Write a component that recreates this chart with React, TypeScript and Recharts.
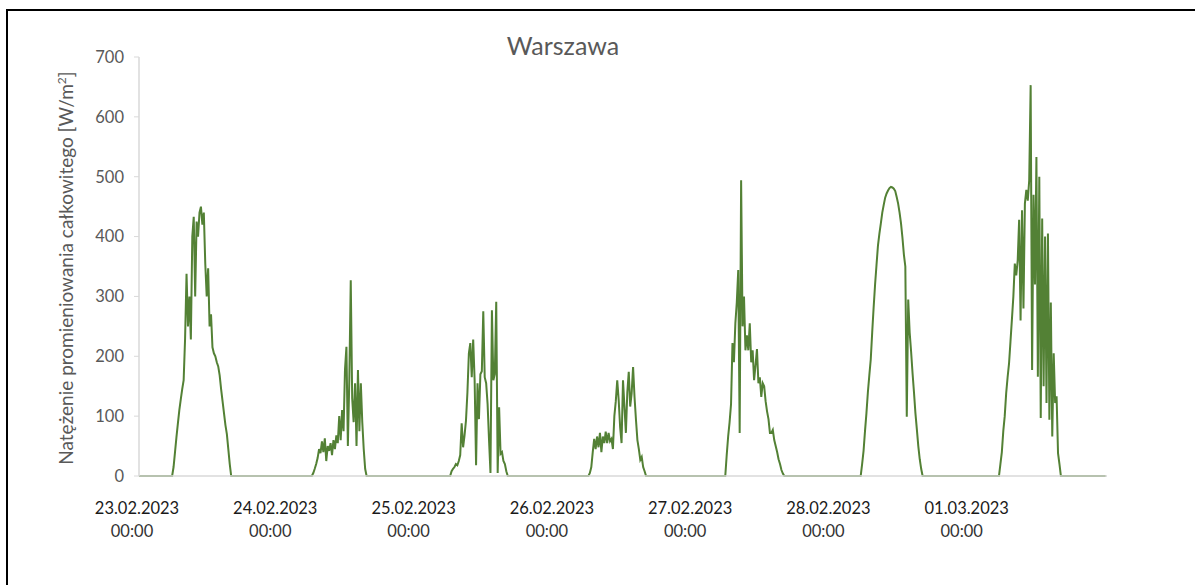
import { LineChart, Line, XAxis, YAxis } from "recharts";

// 15-minute readings, 96 per day, W/m2
const day1 = [
  0, 0, 0, 0, 0, 0, 0, 0, 0, 0, 0, 0, 0, 0, 0, 0, 0, 0, 0, 0, 0, 0, 0, 0,
  15, 40, 65, 88, 110, 128, 145, 160, 230, 338, 250, 300, 228, 400, 433, 300, 425, 400, 440, 450, 420, 440, 355, 300,
  347, 250, 270, 215, 205, 200, 190, 183, 168, 145, 125, 105, 85, 70, 45, 20, 0, 0, 0, 0, 0, 0, 0, 0,
  0, 0, 0, 0, 0, 0, 0, 0, 0, 0, 0, 0, 0, 0, 0, 0, 0, 0, 0, 0, 0, 0, 0, 0,
];
const day2 = [
  0, 0, 0, 0, 0, 0, 0, 0, 0, 0, 0, 0, 0, 0, 0, 0, 0, 0, 0, 0, 0, 0, 0, 0,
  0, 5, 12, 20, 30, 45, 38, 58, 40, 63, 25, 50, 42, 55, 35, 60, 45, 68, 55, 100, 60, 110, 75, 178,
  216, 50, 160, 327, 130, 90, 155, 50, 177, 75, 155, 90, 45, 12, 0, 0, 0, 0, 0, 0, 0, 0, 0, 0,
  0, 0, 0, 0, 0, 0, 0, 0, 0, 0, 0, 0, 0, 0, 0, 0, 0, 0, 0, 0, 0, 0, 0, 0,
];
const day3 = [
  0, 0, 0, 0, 0, 0, 0, 0, 0, 0, 0, 0, 0, 0, 0, 0, 0, 0, 0, 0, 0, 0, 0, 0,
  0, 8, 12, 15, 20, 18, 25, 35, 88, 48, 68, 93, 140, 205, 222, 165, 228, 160, 18, 155, 95, 170, 175, 275,
  165, 155, 120, 60, 5, 277, 160, 170, 291, 5, 115, 37, 40, 25, 20, 8, 0, 0, 0, 0, 0, 0, 0, 0,
  0, 0, 0, 0, 0, 0, 0, 0, 0, 0, 0, 0, 0, 0, 0, 0, 0, 0, 0, 0, 0, 0, 0, 0,
];
const day4 = [
  0, 0, 0, 0, 0, 0, 0, 0, 0, 0, 0, 0, 0, 0, 0, 0, 0, 0, 0, 0, 0, 0, 0, 0,
  0, 5, 15, 40, 62, 45, 66, 48, 72, 40, 66, 55, 74, 55, 72, 58, 62, 45, 100, 125, 160, 127, 82, 55,
  160, 116, 72, 140, 174, 116, 138, 182, 132, 94, 60, 45, 27, 32, 15, 8, 0, 0, 0, 0, 0, 0, 0, 0,
  0, 0, 0, 0, 0, 0, 0, 0, 0, 0, 0, 0, 0, 0, 0, 0, 0, 0, 0, 0, 0, 0, 0, 0,
];
const day5 = [
  0, 0, 0, 0, 0, 0, 0, 0, 0, 0, 0, 0, 0, 0, 0, 0, 0, 0, 0, 0, 0, 0, 0, 0,
  35, 66, 90, 120, 222, 190, 255, 290, 344, 72, 494, 250, 300, 210, 235, 210, 255, 190, 210, 160, 185, 212, 155, 165,
  132, 155, 150, 125, 108, 95, 72, 72, 77, 60, 50, 40, 28, 20, 10, 4, 0, 0, 0, 0, 0, 0, 0, 0,
  0, 0, 0, 0, 0, 0, 0, 0, 0, 0, 0, 0, 0, 0, 0, 0, 0, 0, 0, 0, 0, 0, 0, 0,
];
const day6 = [
  0, 0, 0, 0, 0, 0, 0, 0, 0, 0, 0, 0, 0, 0, 0, 0, 0, 0, 0, 0, 0, 0, 20, 42,
  75, 105, 140, 168, 195, 240, 282, 320, 353, 385, 405, 422, 440, 453, 465, 472, 477, 481, 483, 482, 480, 476, 466, 455,
  440, 422, 398, 370, 350, 99, 295, 240, 208, 172, 140, 105, 78, 50, 28, 12, 0, 0, 0, 0, 0, 0, 0, 0,
  0, 0, 0, 0, 0, 0, 0, 0, 0, 0, 0, 0, 0, 0, 0, 0, 0, 0, 0, 0, 0, 0, 0, 0,
];
const day7 = [
  0, 0, 0, 0, 0, 0, 0, 0, 0, 0, 0, 0, 0, 0, 0, 0, 0, 0, 0, 0, 0, 0, 20, 40,
  75, 100, 138, 165, 188, 225, 262, 300, 355, 335, 360, 428, 260, 444, 280, 455, 478, 460, 494, 653, 177, 470, 320, 533,
  166, 500, 97, 430, 150, 400, 122, 405, 94, 290, 66, 205, 122, 133, 38, 20, 0, 0, 0, 0, 0, 0, 0, 0,
  0, 0, 0, 0, 0, 0, 0, 0, 0, 0, 0, 0, 0, 0, 0, 0, 0, 0, 0, 0, 0, 0, 0, 0,
];

const dateLabels = ["23.02.2023", "24.02.2023", "25.02.2023", "26.02.2023", "27.02.2023", "28.02.2023", "01.03.2023"];
const timeLabel = "00:00";
const yTicks = [0, 100, 200, 300, 400, 500, 600, 700];
const xTicks = [0, 96, 192, 288, 384, 480, 576];

const data = [...day1, ...day2, ...day3, ...day4, ...day5, ...day6, ...day7].map((v, i) => ({ t: i, value: v }));

const FONT = "Lato, 'Open Sans', sans-serif";

function DateTick(props: any) {
  const { x, y, payload } = props;
  const idx = Math.round(payload.value / 96);
  return (
    <g>
      <text x={x - 2} y={y} dy={30} textAnchor="middle" fill="#1a1a1a" fontSize={16.5} fontFamily={FONT}>
        {dateLabels[idx]}
      </text>
      <text x={x - 7} y={y} dy={53} textAnchor="middle" fill="#333" fontSize={16.5} fontFamily={FONT}>
        {timeLabel}
      </text>
    </g>
  );
}

export default function App() {
  return (
    <div style={{ position: "fixed", left: 0, top: 0, width: 1195, height: 585, overflow: "hidden", background: "#fff" }}>
      <div style={{ position: "absolute", left: 6, top: 9, width: 1300, height: 700, borderLeft: "2.5px solid #000", borderTop: "2.5px solid #000" }} />
      <div style={{ position: "absolute", left: 413, top: 33, width: 300, textAlign: "center", fontFamily: FONT, fontSize: 25, lineHeight: 1, color: "#595959" }}>
        Warszawa
      </div>
      <div
        style={{
          position: "absolute", left: 66 - 250, top: 268 - 12, width: 500, height: 24, lineHeight: "24px",
          textAlign: "center", transform: "rotate(-90deg)", fontFamily: FONT, fontSize: 19, color: "#595959", whiteSpace: "nowrap",
        }}
      >
        Natężenie promieniowania całkowitego [W/m<sup style={{ fontSize: 12, lineHeight: 0 }}>2</sup>]
      </div>
      <div style={{ position: "absolute", left: 0, top: 0 }}>
        <LineChart width={1195} height={585} data={data} margin={{ top: 57, right: 88, bottom: 49, left: 79 }}>
          <XAxis
            dataKey="t"
            type="number"
            domain={[0, 672]}
            ticks={xTicks}
            interval={0}
            height={60}
            axisLine={{ stroke: "#d9d9d9", strokeWidth: 1.5 }}
            tickLine={false}
            tick={<DateTick />}
          />
          <YAxis
            domain={[0, 700]}
            ticks={yTicks}
            width={60}
            axisLine={{ stroke: "#d9d9d9", strokeWidth: 1.5 }}
            tickLine={{ stroke: "#d9d9d9" }}
            tickSize={5}
            tickMargin={10}
            tick={{ fill: "#595959", fontSize: 16.5, fontFamily: FONT }}
          />
          <Line type="linear" dataKey="value" stroke="#538135" strokeWidth={2} dot={false} isAnimationActive={false} />
        </LineChart>
      </div>
    </div>
  );
}
